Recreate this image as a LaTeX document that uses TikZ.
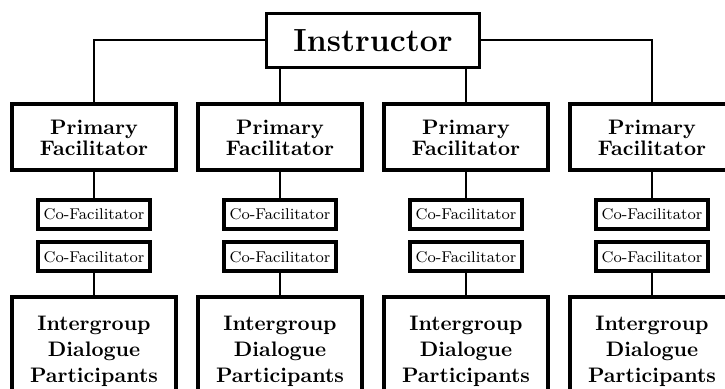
\documentclass[tikz,border=0pt]{standalone}
\usepackage{tikz}
\tikzstyle{instructor} = [
	rectangle,
	minimum width=106.5pt,
	minimum height=27pt,
	text centered,
	draw=black,
	line width=1.5pt,
	fill=white,
	font=\fontsize{16}{19}\selectfont\bfseries
]
\tikzstyle{primary} = [
	rectangle,
	minimum width=82pt,
	minimum height=33pt,
	align=center,
	draw=black,
	line width=2pt,
	fill=white,
	font=\fontsize{10.5}{10.5}\selectfont\bfseries
]
\tikzstyle{cofac} = [
	rectangle,
	minimum width=56pt,
	minimum height=14.5pt,
	text centered,
	draw=black,
	line width=2pt,
	fill=white,
	inner sep=1pt,
	font=\fontsize{7.8}{9}\selectfont
]
\tikzstyle{participants} = [
	rectangle,
	minimum width=82pt,
	minimum height=55pt,
	align=center,
	draw=black,
	line width=2pt,
	fill=white,
	font=\fontsize{10.5}{13}\selectfont\bfseries
]
\tikzstyle{connector} = [line width=1pt]

\begin{document}
\begin{tikzpicture}
        \useasboundingbox (-186.5pt,20.25pt) rectangle (176pt,-174.25pt);
        \clip (-186.5pt,20.25pt) rectangle (176pt,-174.25pt);
        \node (instr) [instructor] {Instructor};
        % first row
        \node (p1) [primary, below of=instr, node distance=48.5pt, xshift=-139.5pt] {Primary\\Facilitator};
        \node (p2) [primary, below of=instr, node distance=48.5pt, xshift=-46.5pt] {Primary\\Facilitator};
        \node (p3) [primary, below of=instr, node distance=48.5pt, xshift=46.5pt] {Primary\\Facilitator};
        \node (p4) [primary, below of=instr, node distance=48.5pt, xshift=139.5pt] {Primary\\Facilitator};
        % co-facilitators
        \node (c1a) [cofac, below of=p1, node distance=38.4pt] {Co-Facilitator};
        \node (c2a) [cofac, below of=p2, node distance=38.4pt] {Co-Facilitator};
        \node (c3a) [cofac, below of=p3, node distance=38.4pt] {Co-Facilitator};
        \node (c4a) [cofac, below of=p4, node distance=38.4pt] {Co-Facilitator};
        \node (c1b) [cofac, below of=c1a, node distance=21.25pt] {Co-Facilitator};
        \node (c2b) [cofac, below of=c2a, node distance=21.25pt] {Co-Facilitator};
        \node (c3b) [cofac, below of=c3a, node distance=21.25pt] {Co-Facilitator};
        \node (c4b) [cofac, below of=c4a, node distance=21.25pt] {Co-Facilitator};
        % participants
        \node (g1) [participants, below of=c1b, node distance=47.5pt] {Intergroup\\Dialogue\\Participants};
        \node (g2) [participants, below of=c2b, node distance=47.5pt] {Intergroup\\Dialogue\\Participants};
        \node (g3) [participants, below of=c3b, node distance=47.5pt] {Intergroup\\Dialogue\\Participants};
        \node (g4) [participants, below of=c4b, node distance=47.5pt] {Intergroup\\Dialogue\\Participants};
        \draw [connector] (instr) -| (p1);
        \draw [connector] (instr) -| (p4);
        \draw [connector] (p2 |- instr.south) -- (p2);
        \draw [connector] (p3 |- instr.south) -- (p3);
        \draw [connector] (p1) -- (c1a);
        \draw [connector] (p2) -- (c2a);
        \draw [connector] (p3) -- (c3a);
        \draw [connector] (p4) -- (c4a);
        \draw [connector] (c1b) -- (g1);
        \draw [connector] (c2b) -- (g2);
        \draw [connector] (c3b) -- (g3);
        \draw [connector] (c4b) -- (g4);
      \end{tikzpicture}
\end{document}
